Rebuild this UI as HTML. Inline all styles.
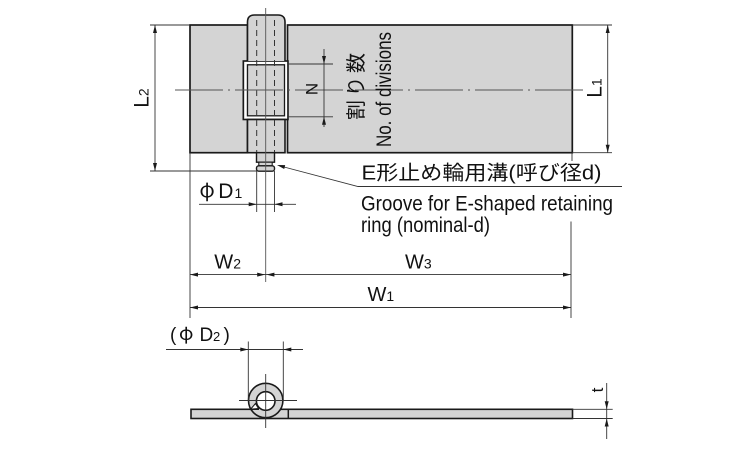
<!DOCTYPE html>
<html><head><meta charset="utf-8"><style>
html,body{margin:0;padding:0;background:#fff;}
svg{display:block;}
text{font-family:"Liberation Sans","Noto Sans CJK JP",sans-serif;fill:#111;}
.jp{font-family:"Liberation Sans","Noto Sans CJK JP",sans-serif;}
.phi{font-family:"Noto Sans CJK JP","Liberation Sans",sans-serif;}
</style></head><body>
<svg width="750" height="450" viewBox="0 0 750 450" xmlns="http://www.w3.org/2000/svg">
<rect width="750" height="450" fill="#fff"/>

<!-- ===== TOP VIEW ===== -->
<rect x="190" y="25" width="57.5" height="127.7" fill="#d4d4d4" stroke="#1a1a1a" stroke-width="1.7"/>
<rect x="287.5" y="25" width="284.8" height="127.7" fill="#d4d4d4" stroke="#1a1a1a" stroke-width="1.7"/>
<rect x="243.3" y="61" width="44.7" height="58.5" fill="#d4d4d4" stroke="#1a1a1a" stroke-width="1.6"/>
<rect x="245.5" y="63" width="40.5" height="54.5" fill="none" stroke="#fff" stroke-width="2"/>
<rect x="247.5" y="64.8" width="37" height="51" fill="#d4d4d4" stroke="#1a1a1a" stroke-width="1.3"/>
<path d="M247.5,61 V22 Q247.5,15 254.5,15 H278 Q285,15 285,22 V61" fill="#d4d4d4" stroke="#1a1a1a" stroke-width="1.6"/>
<rect x="247.5" y="119.5" width="37.5" height="33.2" fill="#d4d4d4" stroke="#1a1a1a" stroke-width="1.6"/>
<rect x="256.5" y="152.7" width="18" height="9.5" fill="#d4d4d4" stroke="#1a1a1a" stroke-width="1.4"/>
<rect x="258.8" y="162.2" width="13.4" height="3.6" fill="#d4d4d4" stroke="#1a1a1a" stroke-width="1.1"/>
<rect x="256.5" y="165.8" width="18" height="5.4" rx="2.2" fill="#d4d4d4" stroke="#1a1a1a" stroke-width="1.4"/>

<g stroke="#333" stroke-width="1" stroke-dasharray="6,4">
<line x1="256.7" y1="20" x2="256.7" y2="152"/>
<line x1="274.5" y1="20" x2="274.5" y2="152"/>
</g>

<line x1="175" y1="90" x2="584" y2="90" stroke="#555" stroke-width="1" stroke-dasharray="48,5,2,5"/>
<line x1="265.7" y1="8" x2="265.7" y2="282" stroke="#555" stroke-width="0.9"/>

<g stroke="#333" stroke-width="0.9" fill="none">
<line x1="150" y1="25" x2="190" y2="25"/>
<line x1="150" y1="171" x2="256.5" y2="171"/>
<line x1="155" y1="25" x2="155" y2="171"/>
<line x1="572.3" y1="25" x2="612" y2="25"/>
<line x1="572.3" y1="152.7" x2="612" y2="152.7"/>
<line x1="607.7" y1="25" x2="607.7" y2="152.7"/>
<line x1="288" y1="64" x2="333" y2="64"/>
<line x1="288" y1="116.8" x2="333" y2="116.8"/>
<line x1="324" y1="49" x2="324" y2="127"/>
<line x1="256.7" y1="171" x2="256.7" y2="212"/>
<line x1="274.5" y1="171" x2="274.5" y2="212"/>
<line x1="199" y1="204.3" x2="296" y2="204.3"/>
<line x1="190" y1="152.7" x2="190" y2="318"/>
<line x1="572" y1="152.7" x2="572" y2="161"/>
<line x1="571" y1="221.5" x2="571" y2="318"/>
<line x1="190" y1="274.6" x2="571" y2="274.6"/>
<line x1="190" y1="307.5" x2="571" y2="307.5"/>
<polyline points="284,167 358,186.5 622,186.5"/>
</g>

<g fill="#1a1a1a">
<polygon points="155,25 153,33 157,33"/>
<polygon points="155,171 153,163 157,163"/>
<polygon points="607.7,25 605.7,33 609.7,33"/>
<polygon points="607.7,152.7 605.7,144.7 609.7,144.7"/>
<polygon points="324,64 322,56 326,56"/>
<polygon points="324,116.8 322,124.8 326,124.8"/>
<polygon points="256.7,204.3 248.7,202.3 248.7,206.3"/>
<polygon points="274.5,204.3 282.5,202.3 282.5,206.3"/>
<polygon points="190,274.6 198,272.6 198,276.6"/>
<polygon points="265.2,274.6 257.2,272.6 257.2,276.6"/>
<polygon points="266.4,274.6 274.4,272.6 274.4,276.6"/>
<polygon points="571,274.6 563,272.6 563,276.6"/>
<polygon points="190,307.5 198,305.5 198,309.5"/>
<polygon points="571,307.5 563,305.5 563,309.5"/>
<polygon points="277,165 285.2,165.1 284.2,169"/>
</g>

<text transform="translate(148.5,98) rotate(-90)" text-anchor="middle" font-size="21">L<tspan font-size="14">2</tspan></text>
<text transform="translate(601.5,88) rotate(-90)" text-anchor="middle" font-size="21">L<tspan font-size="14">1</tspan></text>
<text transform="translate(317.5,89) rotate(-90)" text-anchor="middle" font-size="17">N</text>
<text class="jp" transform="translate(363,86.5) rotate(-90)" text-anchor="middle" font-size="20" textLength="67" lengthAdjust="spacing">割り数</text>
<text transform="translate(391,89.5) rotate(-90)" text-anchor="middle" font-size="21" textLength="115" lengthAdjust="spacingAndGlyphs">No. of divisions</text>

<text class="phi" x="199.5" y="197" font-size="20">φ</text>
<text x="218.3" y="198" font-size="21">D</text>
<text x="234.5" y="198" font-size="14">1</text>

<text class="jp" x="361.5" y="179.5" font-size="20" textLength="240" lengthAdjust="spacingAndGlyphs">E形止め輪用溝(呼び径d)</text>
<text x="361" y="210.5" font-size="21" textLength="252" lengthAdjust="spacingAndGlyphs">Groove for E-shaped retaining</text>
<text x="361" y="232" font-size="21" textLength="129" lengthAdjust="spacingAndGlyphs">ring (nominal-d)</text>

<text x="214.3" y="268.3" font-size="20">W<tspan font-size="14">2</tspan></text>
<text x="405" y="268.3" font-size="20">W<tspan font-size="14">3</tspan></text>
<text x="367.5" y="301" font-size="20">W<tspan font-size="14">1</tspan></text>

<!-- ===== BOTTOM (SIDE) VIEW ===== -->
<rect x="191" y="409.3" width="381.5" height="9.2" fill="#d4d4d4" stroke="#1a1a1a" stroke-width="1.6"/>
<line x1="288.3" y1="409.3" x2="288.3" y2="418.5" stroke="#1a1a1a" stroke-width="1.5"/>
<circle cx="265.7" cy="400.5" r="17.2" fill="#d4d4d4" stroke="#1a1a1a" stroke-width="1.6"/>
<circle cx="265.7" cy="401" r="9.3" fill="#fff" stroke="#1a1a1a" stroke-width="1.6"/>
<polygon points="250.5,409.3 255.5,403.5 258.5,408.5" fill="#fff" stroke="#1a1a1a" stroke-width="1.1"/>
<line x1="250" y1="409.3" x2="259" y2="409.3" stroke="#1a1a1a" stroke-width="1.4"/>

<g stroke="#333" stroke-width="0.9" fill="none">
<line x1="239" y1="400.5" x2="297" y2="400.5"/>
<line x1="265.7" y1="374" x2="265.7" y2="428"/>
<line x1="248.3" y1="341.5" x2="248.3" y2="400"/>
<line x1="283.3" y1="341.5" x2="283.3" y2="400"/>
<line x1="166" y1="349.5" x2="303" y2="349.5"/>
<line x1="572.5" y1="409.3" x2="612.7" y2="409.3"/>
<line x1="572.5" y1="418.5" x2="612.7" y2="418.5"/>
<line x1="606.7" y1="383" x2="606.7" y2="439"/>
</g>
<g fill="#1a1a1a">
<polygon points="248.3,349.5 240.3,347.5 240.3,351.5"/>
<polygon points="283.3,349.5 291.3,347.5 291.3,351.5"/>
<polygon points="606.7,409.3 604.7,401.3 608.7,401.3"/>
<polygon points="606.7,418.5 604.7,426.5 608.7,426.5"/>
</g>

<text x="170" y="341" font-size="19">(</text>
<text class="phi" x="179" y="340" font-size="19">φ</text>
<text x="199.5" y="341" font-size="19">D</text>
<text x="213" y="341" font-size="13">2</text>
<text x="223.5" y="341" font-size="19">)</text>

<text transform="translate(603,390) rotate(-90)" text-anchor="middle" font-size="17">t</text>
</svg>
</body></html>
